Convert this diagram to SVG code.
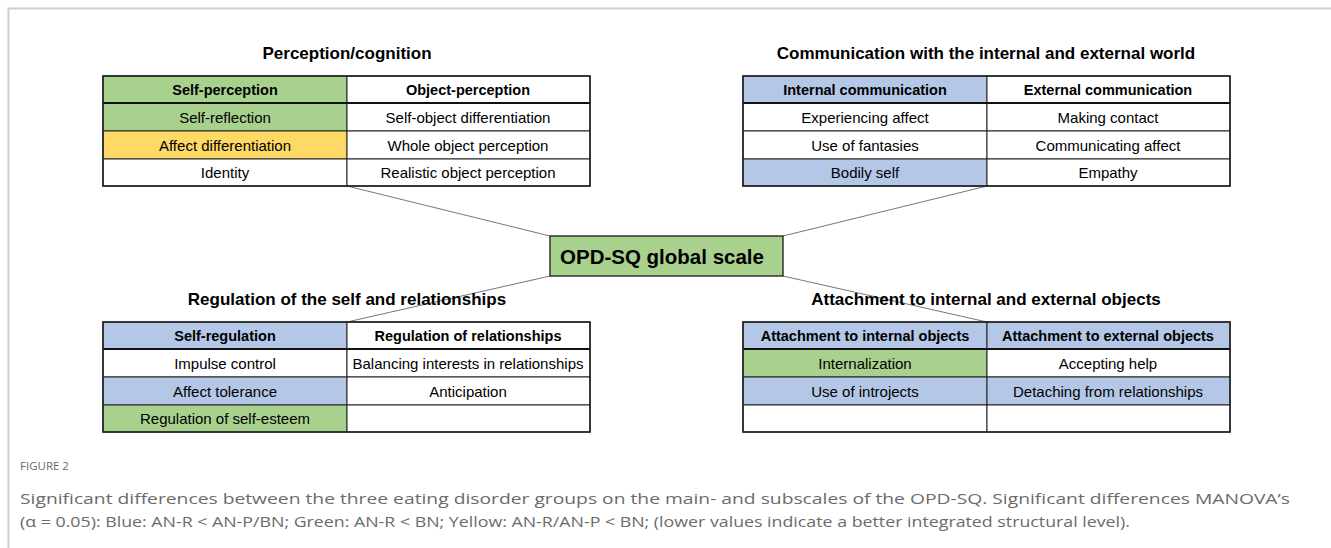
<svg xmlns="http://www.w3.org/2000/svg" width="1331" height="548" viewBox="0 0 1331 548">
<style>
.title{font-family:"Liberation Sans",Arial,sans-serif;font-weight:bold;font-size:17px;fill:#000;text-anchor:middle}
.hd{font-family:"Liberation Sans",Arial,sans-serif;font-weight:bold;font-size:14.5px;fill:#000;text-anchor:middle}
.cl{font-family:"Liberation Sans",Arial,sans-serif;font-size:15px;fill:#000;text-anchor:middle}
.cell{stroke:#222;stroke-width:1}
.g{fill:#A9D18E}.b{fill:#B4C7E7}.y{fill:#FFD966}.w{fill:#fff}
.out{fill:none;stroke:#222;stroke-width:1.6}
.sep{stroke:#111;stroke-width:2.2}
.conn{stroke:#777;stroke-width:1;fill:none}
.cap{font-family:"Open Sans",sans-serif;fill:#6b6b6b}
</style>
<rect width="1331" height="548" fill="#fff"/>
<path d="M8.5,548 V8.5 H1331" fill="none" stroke="#cfcfcf" stroke-width="2"/>

<g id="connectors">
<line class="conn" x1="347" y1="186" x2="550" y2="236"/>
<line class="conn" x1="987" y1="186" x2="783" y2="236"/>
<line class="conn" x1="550" y1="276" x2="347" y2="322"/>
<line class="conn" x1="783" y1="276" x2="987" y2="322"/>
</g>

<g id="center">
<rect x="550" y="236" width="233" height="40" fill="#A9D18E" stroke="#333" stroke-width="1.5"/>
<text x="662" y="264" font-family="Liberation Sans,Arial,sans-serif" font-weight="bold" font-size="20.5" text-anchor="middle">OPD-SQ global scale</text>
</g>

<g id="perception">
<text class="title" x="347" y="59">Perception/cognition</text>
<rect class="cell g" x="103" y="76" width="244" height="27"/>
<rect class="cell w" x="347" y="76" width="243" height="27"/>
<rect class="cell g" x="103" y="103" width="244" height="28"/>
<rect class="cell w" x="347" y="103" width="243" height="28"/>
<rect class="cell y" x="103" y="131" width="244" height="28"/>
<rect class="cell w" x="347" y="131" width="243" height="28"/>
<rect class="cell w" x="103" y="159" width="244" height="27"/>
<rect class="cell w" x="347" y="159" width="243" height="27"/>
<line class="sep" x1="103" y1="103" x2="590" y2="103"/>
<rect class="out" x="103" y="76" width="487" height="110"/>
<text class="hd" x="225" y="95">Self-perception</text>
<text class="hd" x="468" y="95">Object-perception</text>
<text class="cl" x="225" y="123">Self-reflection</text>
<text class="cl" x="468" y="123">Self-object differentiation</text>
<text class="cl" x="225" y="151">Affect differentiation</text>
<text class="cl" x="468" y="151">Whole object perception</text>
<text class="cl" x="225" y="178">Identity</text>
<text class="cl" x="468" y="178">Realistic object perception</text>
</g>

<g id="communication">
<text class="title" x="986" y="59">Communication with the internal and external world</text>
<rect class="cell b" x="743" y="76" width="244" height="27"/>
<rect class="cell w" x="987" y="76" width="243" height="27"/>
<rect class="cell w" x="743" y="103" width="244" height="28"/>
<rect class="cell w" x="987" y="103" width="243" height="28"/>
<rect class="cell w" x="743" y="131" width="244" height="28"/>
<rect class="cell w" x="987" y="131" width="243" height="28"/>
<rect class="cell b" x="743" y="159" width="244" height="27"/>
<rect class="cell w" x="987" y="159" width="243" height="27"/>
<line class="sep" x1="743" y1="103" x2="1230" y2="103"/>
<rect class="out" x="743" y="76" width="487" height="110"/>
<text class="hd" x="865" y="95">Internal communication</text>
<text class="hd" x="1108" y="95">External communication</text>
<text class="cl" x="865" y="123">Experiencing affect</text>
<text class="cl" x="1108" y="123">Making contact</text>
<text class="cl" x="865" y="151">Use of fantasies</text>
<text class="cl" x="1108" y="151">Communicating affect</text>
<text class="cl" x="865" y="178">Bodily self</text>
<text class="cl" x="1108" y="178">Empathy</text>
</g>

<g id="regulation">
<text class="title" x="347" y="305">Regulation of the self and relationships</text>
<rect class="cell b" x="103" y="322" width="244" height="27"/>
<rect class="cell w" x="347" y="322" width="243" height="27"/>
<rect class="cell w" x="103" y="349" width="244" height="28"/>
<rect class="cell w" x="347" y="349" width="243" height="28"/>
<rect class="cell b" x="103" y="377" width="244" height="28"/>
<rect class="cell w" x="347" y="377" width="243" height="28"/>
<rect class="cell g" x="103" y="405" width="244" height="27"/>
<rect class="cell w" x="347" y="405" width="243" height="27"/>
<line class="sep" x1="103" y1="349" x2="590" y2="349"/>
<rect class="out" x="103" y="322" width="487" height="110"/>
<text class="hd" x="225" y="341">Self-regulation</text>
<text class="hd" x="468" y="341">Regulation of relationships</text>
<text class="cl" x="225" y="369">Impulse control</text>
<text class="cl" x="468" y="369">Balancing interests in relationships</text>
<text class="cl" x="225" y="397">Affect tolerance</text>
<text class="cl" x="468" y="397">Anticipation</text>
<text class="cl" x="225" y="424">Regulation of self-esteem</text>
</g>

<g id="attachment">
<text class="title" x="986" y="305">Attachment to internal and external objects</text>
<rect class="cell b" x="743" y="322" width="244" height="27"/>
<rect class="cell b" x="987" y="322" width="243" height="27"/>
<rect class="cell g" x="743" y="349" width="244" height="28"/>
<rect class="cell w" x="987" y="349" width="243" height="28"/>
<rect class="cell b" x="743" y="377" width="244" height="28"/>
<rect class="cell b" x="987" y="377" width="243" height="28"/>
<rect class="cell w" x="743" y="405" width="244" height="27"/>
<rect class="cell w" x="987" y="405" width="243" height="27"/>
<line class="sep" x1="743" y1="349" x2="1230" y2="349"/>
<rect class="out" x="743" y="322" width="487" height="110"/>
<text class="hd" x="865" y="341">Attachment to internal objects</text>
<text class="hd" x="1108" y="341">Attachment to external objects</text>
<text class="cl" x="865" y="369">Internalization</text>
<text class="cl" x="1108" y="369">Accepting help</text>
<text class="cl" x="865" y="397">Use of introjects</text>
<text class="cl" x="1108" y="397">Detaching from relationships</text>
</g>

<g id="caption">
<text class="cap" x="20" y="470" font-size="11.5">FIGURE 2</text>
<text class="cap" x="20" y="504" font-size="15" textLength="1270" lengthAdjust="spacingAndGlyphs">Significant differences between the three eating disorder groups on the main- and subscales of the OPD-SQ. Significant differences MANOVA’s</text>
<text class="cap" x="20" y="527" font-size="15" textLength="1110" lengthAdjust="spacingAndGlyphs">(α = 0.05): Blue: AN-R &lt; AN-P/BN; Green: AN-R &lt; BN; Yellow: AN-R/AN-P &lt; BN; (lower values indicate a better integrated structural level).</text>
</g>
</svg>
